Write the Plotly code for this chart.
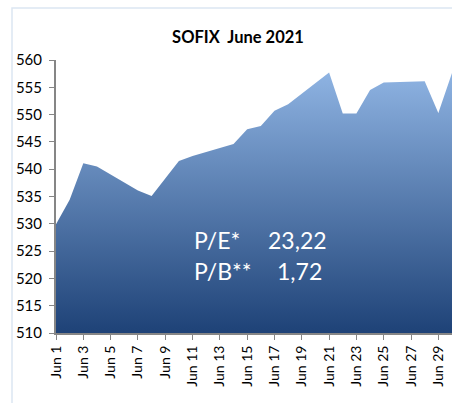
import plotly.graph_objects as go

dates = ["2021-06-01", "2021-06-02", "2021-06-03", "2021-06-04", "2021-06-07",
         "2021-06-08", "2021-06-09", "2021-06-10", "2021-06-11", "2021-06-14",
         "2021-06-15", "2021-06-16", "2021-06-17", "2021-06-18", "2021-06-21",
         "2021-06-22", "2021-06-23", "2021-06-24", "2021-06-25", "2021-06-28",
         "2021-06-29", "2021-06-30"]
sofix = [529.9, 534.4, 541.1, 540.5, 536.1,
         535.1, 538.3, 541.5, 542.4, 544.6,
         547.3, 547.9, 550.7, 551.9, 557.7,
         550.2, 550.2, 554.5, 555.9, 556.1,
         550.3, 557.6]
title_text = "SOFIX  June 2021"
ratio_labels = ["P/E*", "P/B**"]
ratio_values = ["23,22", "1,72"]

W, H = 452, 403
L, R, T, B = 56, 0, 60, 70
pw, ph = W - L - R, H - T - B

def px(x):
    return (x - L) / pw

def py(y):
    return (H - B - y) / ph

FONT = "Lato, Calibri, 'Open Sans', sans-serif"

fig = go.Figure()
fig.add_trace(go.Scatter(
    x=dates, y=sofix, mode="lines", line=dict(width=0, color="#8FB4E3"),
    fill="tozeroy",
    fillgradient=dict(type="vertical",
                      colorscale=[[0, "#1E4277"], [1, "#8FB4E3"]],
                      start=510, stop=558),
    hoverinfo="x+y", showlegend=False,
))

annotations = []
ys = [240, 271]
val_x = [266, 275]
for lab, val, yy, vx in zip(ratio_labels, ratio_values, ys, val_x):
    annotations.append(dict(xref="paper", yref="paper", x=px(192), y=py(yy),
                            xanchor="left", yanchor="middle", text=lab, showarrow=False,
                            font=dict(family=FONT, size=23, color="white")))
    annotations.append(dict(xref="paper", yref="paper", x=px(vx), y=py(yy),
                            xanchor="left", yanchor="middle", text=val, showarrow=False,
                            font=dict(family=FONT, size=23, color="white")))

fig.update_layout(
    width=W, height=H, autosize=False,
    margin=dict(l=L, r=R, t=T, b=B, autoexpand=False),
    paper_bgcolor="white", plot_bgcolor="white",
    title=dict(text="<b>" + title_text + "</b>", x=238 / W, xanchor="center",
               y=1 - 37 / H, yanchor="middle",
               font=dict(family=FONT, size=16.5, color="black")),
    xaxis=dict(type="date", range=["2021-06-01", "2021-06-30"],
               tick0="2021-06-01", dtick=2 * 86400000, tickformat="%b %-d",
               tickangle=-90, ticks="outside", ticklen=5, tickcolor="#868686",
               showline=True, linecolor="#868686", linewidth=2,
               showgrid=False, zeroline=False, automargin=False,
               tickfont=dict(family=FONT, size=14, color="black")),
    yaxis=dict(range=[510, 560], dtick=5, tick0=510,
               ticks="outside", ticklen=5, tickcolor="#868686",
               showline=True, linecolor="#868686", linewidth=2,
               showgrid=False, zeroline=False, automargin=False,
               ticklabelstandoff=4,
               tickfont=dict(family=FONT, size=15, color="black")),
    annotations=annotations,
    shapes=[dict(type="rect", xref="paper", yref="paper",
                 x0=px(12), x1=px(470), y0=py(420), y1=py(8),
                 line=dict(color="#DCE6F2", width=1.5), layer="below")],
)

fig.write_html("out.html", config={"displayModeBar": False},
               post_script="document.body.style.margin='0';document.body.style.overflow='hidden';")
